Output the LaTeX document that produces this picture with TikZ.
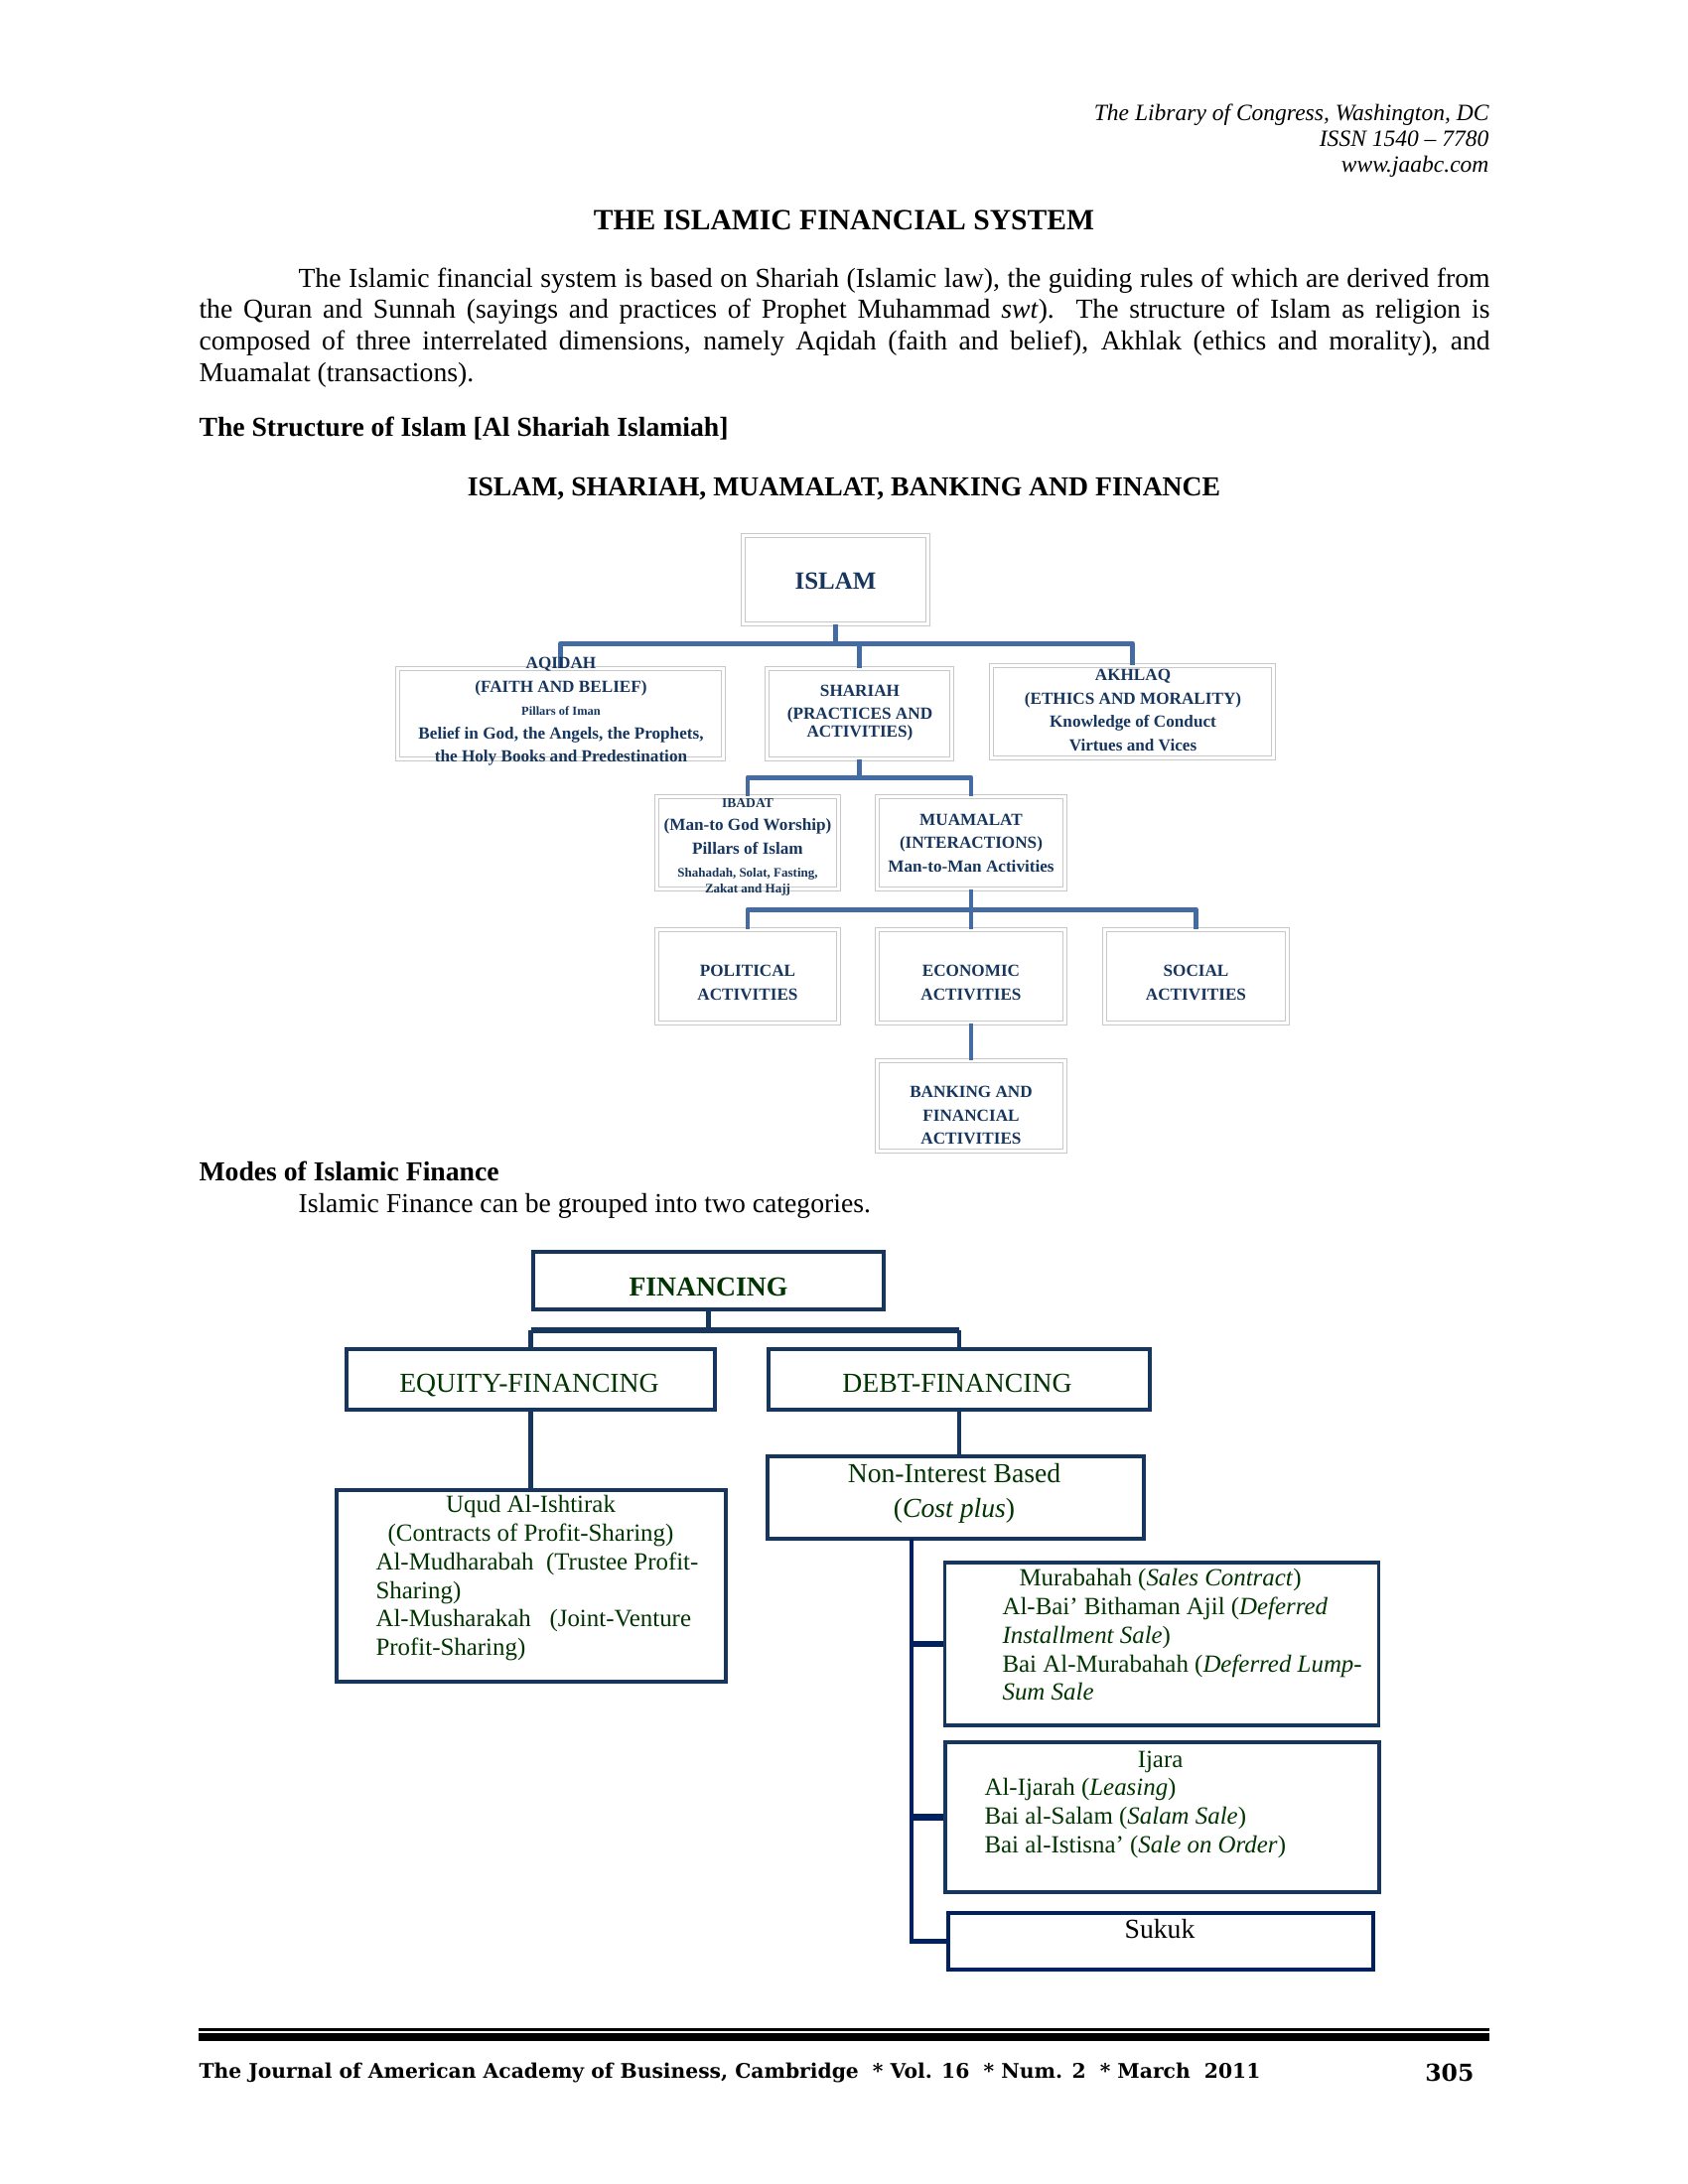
\documentclass[tikz,border=0pt]{standalone}
\usepackage{fontspec}
\setmainfont{Liberation Serif}
\newfontfamily\footfont{DejaVu Serif}

\newdimen\pix \pix=0.36135pt
\definecolor{saText}{RGB}{23,54,93}
\definecolor{saLine}{RGB}{68,108,162}
\definecolor{saBorder}{RGB}{200,200,200}
\definecolor{finNavy}{RGB}{23,54,93}
\definecolor{finDark}{RGB}{0,32,96}
\definecolor{finGreen}{RGB}{0,52,0}

\tikzset{
  wh/.style 2 args={minimum width=#1*\pix, minimum height=#2*\pix},
  sabox/.style={draw=saBorder, double=white, double distance=1.2pt, line width=0.35pt, inner sep=0pt},
  satext/.style={text=saText, font=\bfseries\fontsize{6.2}{8.5}\selectfont, align=center, inner sep=0pt},
  saline/.style={draw=saLine, line width=1.8pt, line join=round},
  finbox/.style={draw=finNavy, line width=1.3pt, inner sep=0pt},
  fintext/.style={text=finGreen, font=\fontsize{9}{10.4}\selectfont, inner sep=0pt, align=left},
  finline/.style={draw=finNavy, line width=1.6pt},
}

\begin{document}
\begin{tikzpicture}[x=0.36135pt, y=-0.36135pt]
  \fill[white] (0,0) rectangle (1700,2200);
  \useasboundingbox (0,0) rectangle (1700,2200);

  % page text
  \node[anchor=north east, align=right, inner sep=0pt, font=\itshape\fontsize{8.5}{9.4}\selectfont] (hdr) at (1500,104)
    {The Library of Congress, Washington, DC\\ISSN 1540 -- 7780\\www.jaabc.com};
  \node[anchor=base, inner sep=0pt, font=\bfseries\fontsize{10.7}{12}\selectfont] (title) at (850,231) {THE ISLAMIC FINANCIAL SYSTEM};
  \node[anchor=north west, inner sep=0pt, text width=469.76pt, align=justify, font=\fontsize{10}{11.45}\selectfont] (intro) at (200,269)
    {\hspace*{100\pix}The Islamic financial system is based on Shariah (Islamic law), the guiding rules of which are derived from\linebreak
     the Quran and Sunnah (sayings and practices of Prophet Muhammad \textit{swt}).\ \ The structure of Islam as religion is\linebreak
     composed of three interrelated dimensions, namely Aqidah (faith and belief), Akhlak (ethics and morality), and\linebreak
     Muamalat (transactions).};
  \node[anchor=base west, inner sep=0pt, font=\bfseries\fontsize{10}{12}\selectfont] (structhead) at (200,439) {The Structure of Islam [Al Shariah Islamiah]};
  \node[anchor=base, inner sep=0pt, font=\bfseries\fontsize{10}{12}\selectfont] (charttitle) at (850,499) {ISLAM, SHARIAH, MUAMALAT, BANKING AND FINANCE};

  % structure chart
  \node[sabox, wh={186}{89}] (islam) at (841.5,584) {};
  \node[sabox, wh={328}{91}] (aqidah) at (564.5,719) {};
  \node[sabox, wh={186}{91}] (shariah) at (865.5,719) {};
  \node[sabox, wh={284}{93}] (akhlaq) at (1140.5,717) {};
  \node[sabox, wh={183}{93}] (ibadat) at (753,849) {};
  \node[sabox, wh={189}{93}] (muamalat) at (978,849) {};
  \node[sabox, wh={183}{94}] (political) at (753,983.5) {};
  \node[sabox, wh={189}{94}] (economic) at (978,983.5) {};
  \node[sabox, wh={184}{94}] (social) at (1204.5,983.5) {};
  \node[sabox, wh={189}{91}] (banking) at (978,1114) {};

  \coordinate (islam-bar) at (841.5,648);
  \coordinate (shariah-bar) at (865.5,783);
  \coordinate (muamalat-bar) at (978,916);
  \draw[saline] (islam.south) -- (islam-bar) -| (aqidah.north);
  \draw[saline] (islam-bar) -| (shariah.north);
  \draw[saline] (islam-bar) -| (akhlaq.north);
  \draw[saline] (shariah.south) -- (shariah-bar) -| (ibadat.north);
  \draw[saline] (shariah-bar) -| (muamalat.north);
  \draw[saline] (muamalat.south) -- (muamalat-bar) -| (political.north);
  \draw[saline] (muamalat-bar) -| (social.north);
  \draw[saline] (muamalat-bar) -- (economic.north);
  \draw[saline] (economic.south) -- (banking.north);

  \node[satext, font=\bfseries\fontsize{9}{10}\selectfont] (islam-t) at (841.5,585) {ISLAM};
  \node[satext] (aqidah-t) at (565,717) {AQIDAH\\(FAITH AND BELIEF)\\{\fontsize{4.5}{5}\selectfont Pillars of Iman}\\Belief in God, the Angels, the Prophets,\\the Holy Books and Predestination};
  \node[satext] (shariah-t) at (866,718) {SHARIAH\\(PRACTICES AND\\[-2pt]ACTIVITIES)};
  \node[satext] (akhlaq-t) at (1141,715.5) {AKHLAQ\\(ETHICS AND MORALITY)\\Knowledge of Conduct\\Virtues and Vices};
  \node[satext] (ibadat-t) at (753,853) {{\fontsize{4.9}{6}\selectfont IBADAT}\\(Man-to God Worship)\\Pillars of Islam\\{\fontsize{4.7}{5}\selectfont Shahadah, Solat, Fasting,}\\[-3pt]{\fontsize{4.7}{5}\selectfont Zakat and Hajj}};
  \node[satext] (muamalat-t) at (978,849) {MUAMALAT\\(INTERACTIONS)\\Man-to-Man Activities};
  \node[satext] (political-t) at (753,990) {POLITICAL\\ACTIVITIES};
  \node[satext] (economic-t) at (978,990) {ECONOMIC\\ACTIVITIES};
  \node[satext] (social-t) at (1204.5,990) {SOCIAL\\ACTIVITIES};
  \node[satext] (banking-t) at (978,1123.5) {BANKING AND\\FINANCIAL\\ACTIVITIES};

  \node[anchor=base west, inner sep=0pt, font=\bfseries\fontsize{10}{12}\selectfont] (modeshead) at (200,1189) {Modes of Islamic Finance};
  \node[anchor=base west, inner sep=0pt, font=\fontsize{10}{12}\selectfont] (modestext) at (300,1221) {Islamic Finance can be grouped into two categories.};

  % financing chart
  \node[finbox, wh={353}{58}] (fin) at (713.5,1290) {};
  \node[finbox, wh={371}{61}] (equity) at (534.5,1389.5) {};
  \node[finbox, wh={384}{61}] (debt) at (966,1389.5) {};
  \node[finbox, wh={392}{193}] (uqud) at (535,1597.5) {};
  \node[finbox, wh={379}{83}] (nonint) at (962.5,1508.5) {};
  \node[finbox, wh={437}{164}] (murab) at (1170,1656) {};
  \node[finbox, wh={437}{151}] (ijara) at (1170.5,1830.5) {};
  \node[finbox, draw=finDark, wh={428}{57}] (sukuk) at (1169,1955.5) {};

  \coordinate (fin-bar) at (713.5,1340);
  \coordinate (spine-top) at (918,1550);
  \draw[finline, line width=1.5pt] (fin.south) -- (fin-bar);
  \draw[finline, line width=2.5pt] (equity.north |- fin-bar) -- (debt.north |- fin-bar);
  \draw[finline] (equity.north |- fin-bar) -- (equity.north);
  \draw[finline] (debt.north |- fin-bar) -- (debt.north);
  \draw[finline, line width=2.1pt] (equity.south) -- (uqud.north -| equity.south);
  \draw[finline] (debt.south) -- (nonint.north -| debt.south);
  \draw[finline, draw=finDark, line width=1.8pt] (spine-top) |- (sukuk.west);
  \draw[finline, draw=finDark, line width=2.2pt] (murab.west -| spine-top) -- (murab.west);
  \draw[finline, draw=finDark, line width=2.2pt] (ijara.west -| spine-top) -- (ijara.west);

  \node[fintext, font=\bfseries\fontsize{10}{12}\selectfont] (fin-t) at (713.5,1296) {FINANCING};
  \node[fintext, anchor=base, font=\fontsize{10}{12}\selectfont] (equity-t) at (533,1402) {EQUITY-FINANCING};
  \node[fintext, anchor=base, font=\fontsize{10}{12}\selectfont] (debt-t) at (964,1402) {DEBT-FINANCING};
  \node[fintext, anchor=north west] (uqud-t) at (378,1506)
    {\makebox[312\pix][c]{Uqud Al-Ishtirak}\\\makebox[312\pix][c]{(Contracts of Profit-Sharing)}\\Al-Mudharabah\ \ (Trustee Profit-\\Sharing)\\Al-Musharakah\ \ \ (Joint-Venture\\Profit-Sharing)};
  \node[fintext, align=center, font=\fontsize{10}{12.6}\selectfont] (nonint-t) at (961,1504) {Non-Interest Based\\(\textit{Cost plus})};
  \node[fintext, anchor=north west] (murab-t) at (1009,1580)
    {\hspace*{17\pix}Murabahah (\textit{Sales Contract})\\Al-Bai’ Bithaman Ajil (\textit{Deferred}\\\textit{Installment Sale})\\Bai Al-Murabahah (\textit{Deferred Lump-}\\\textit{Sum Sale}};
  \node[fintext, anchor=north west] (ijara-t) at (991,1763)
    {\makebox[354\pix][c]{Ijara}\\Al-Ijarah (\textit{Leasing})\\Bai al-Salam (\textit{Salam Sale})\\Bai al-Istisna’ (\textit{Sale on Order})};
  \node[inner sep=0pt, font=\fontsize{10}{12}\selectfont] (sukuk-t) at (1168,1943) {Sukuk};

  % footer
  \draw[line width=1.1pt] (200,2044.5) -- (1500,2044.5);
  \draw[line width=2.9pt] (200,2052) -- (1500,2052);
  \node[anchor=base west, inner sep=0pt, font=\footfont\bfseries\fontsize{7.33}{8}\selectfont] (foot) at (200,2093)
    {The Journal of American Academy of Business, Cambridge \ * Vol. 16 \ * Num. 2 \ * March \ 2011};
  \node[anchor=base east, inner sep=0pt, font=\footfont\bfseries\fontsize{8.5}{10}\selectfont] (pageno) at (1485,2096) {305};
\end{tikzpicture}
\end{document}
